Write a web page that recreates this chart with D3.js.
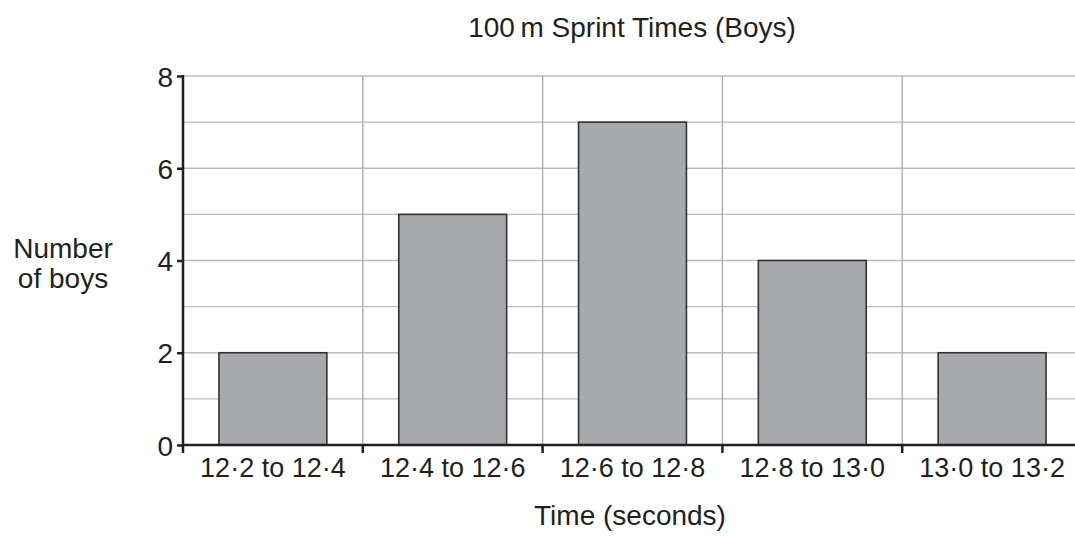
<!DOCTYPE html>
<html lang="en">
  <head>
    <meta charset="UTF-8">
    <title>100 m Sprint Times (Boys)</title>
    <style>
      body {
        margin: 0;
        background: #fff;
        font-family: 'Liberation Sans', Arial, Helvetica, sans-serif;
      }

      #chart text {
        fill: #231f20;
      }
    </style>
  </head>
  <body>
    <div id="chart"></div>

    <script src="https://d3js.org/d3.v7.min.js"></script>
    <script>
      const categories = ['12·2 to 12·4', '12·4 to 12·6', '12·6 to 12·8', '12·8 to 13·0', '13·0 to 13·2'];
      const counts = [2, 5, 7, 4, 2];
      const yTicks = [0, 2, 4, 6, 8];
      const gridValues = [1, 2, 3, 4, 5, 6, 7, 8];

      const width = 1075;
      const height = 536;
      const plotLeft = 183;
      const plotTop = 76;
      const plotBottom = 445;
      const plotRight = 1082;

      const svg = d3.select('#chart').append('svg')
        .attr('width', width)
        .attr('height', height);

      const x = d3.scaleBand()
        .domain(categories)
        .range([plotLeft, plotRight])
        .paddingInner(0.4)
        .paddingOuter(0.2);

      const y = d3.scaleLinear()
        .domain([0, 8])
        .range([plotBottom, plotTop]);

      const boundary = c => x(c) - (x.step() - x.bandwidth()) / 2;

      // horizontal grid
      svg.append('g')
        .selectAll('line')
        .data(gridValues)
        .join('line')
        .attr('x1', plotLeft)
        .attr('x2', width)
        .attr('y1', d => y(d))
        .attr('y2', d => y(d))
        .attr('stroke', '#bcbdbf')
        .attr('stroke-width', 1.3);

      // vertical grid at class boundaries
      svg.append('g')
        .selectAll('line')
        .data(categories.slice(1))
        .join('line')
        .attr('x1', d => boundary(d))
        .attr('x2', d => boundary(d))
        .attr('y1', y(8))
        .attr('y2', y(0))
        .attr('stroke', '#a7a9ac')
        .attr('stroke-width', 1.3);

      // bars
      svg.append('g')
        .selectAll('rect')
        .data(categories)
        .join('rect')
        .attr('x', d => x(d))
        .attr('y', (d, i) => y(counts[i]))
        .attr('width', x.bandwidth())
        .attr('height', (d, i) => y(0) - y(counts[i]))
        .attr('fill', '#a7a9ac')
        .attr('stroke', '#333133')
        .attr('stroke-width', 1.6);

      // y axis
      const yAxis = svg.append('g')
        .attr('transform', `translate(${plotLeft},0)`)
        .call(d3.axisLeft(y).tickValues(yTicks).tickSize(6).tickPadding(4).tickSizeOuter(0));

      yAxis.select('.domain').remove();
      yAxis.selectAll('.tick line').attr('stroke', '#231f20').attr('stroke-width', 2.5);
      yAxis.selectAll('.tick text')
        .attr('font-size', 28)
        .attr('font-family', null)
        .attr('dy', '0.36em');

      svg.append('line')
        .attr('x1', plotLeft)
        .attr('x2', plotLeft)
        .attr('y1', y(8) - 1)
        .attr('y2', plotBottom + 8)
        .attr('stroke', '#231f20')
        .attr('stroke-width', 2.5);

      // x axis
      const xAxis = svg.append('g')
        .attr('transform', `translate(0,${plotBottom})`)
        .call(d3.axisBottom(x).tickSize(0).tickPadding(13));

      xAxis.select('.domain').remove();
      xAxis.selectAll('.tick text')
        .attr('font-size', 27)
        .attr('font-family', null);

      svg.append('line')
        .attr('x1', plotLeft)
        .attr('x2', width)
        .attr('y1', plotBottom)
        .attr('y2', plotBottom)
        .attr('stroke', '#231f20')
        .attr('stroke-width', 2.5);

      svg.append('g')
        .selectAll('line')
        .data(categories.slice(1))
        .join('line')
        .attr('x1', d => boundary(d))
        .attr('x2', d => boundary(d))
        .attr('y1', plotBottom)
        .attr('y2', plotBottom + 8)
        .attr('stroke', '#231f20')
        .attr('stroke-width', 2.5);

      // titles
      svg.append('text')
        .attr('x', 632)
        .attr('y', 37)
        .attr('text-anchor', 'middle')
        .attr('font-size', 28)
        .text('100\u2009m Sprint Times (Boys)');

      svg.append('text')
        .attr('x', 630)
        .attr('y', 525)
        .attr('text-anchor', 'middle')
        .attr('font-size', 28)
        .text('Time (seconds)');

      const yLabel = svg.append('text')
        .attr('x', 63)
        .attr('y', 258)
        .attr('text-anchor', 'middle')
        .attr('font-size', 28);

      yLabel.append('tspan').attr('x', 63).text('Number');
      yLabel.append('tspan').attr('x', 63).attr('dy', 30).text('of boys');
    </script>
  </body>
</html>
